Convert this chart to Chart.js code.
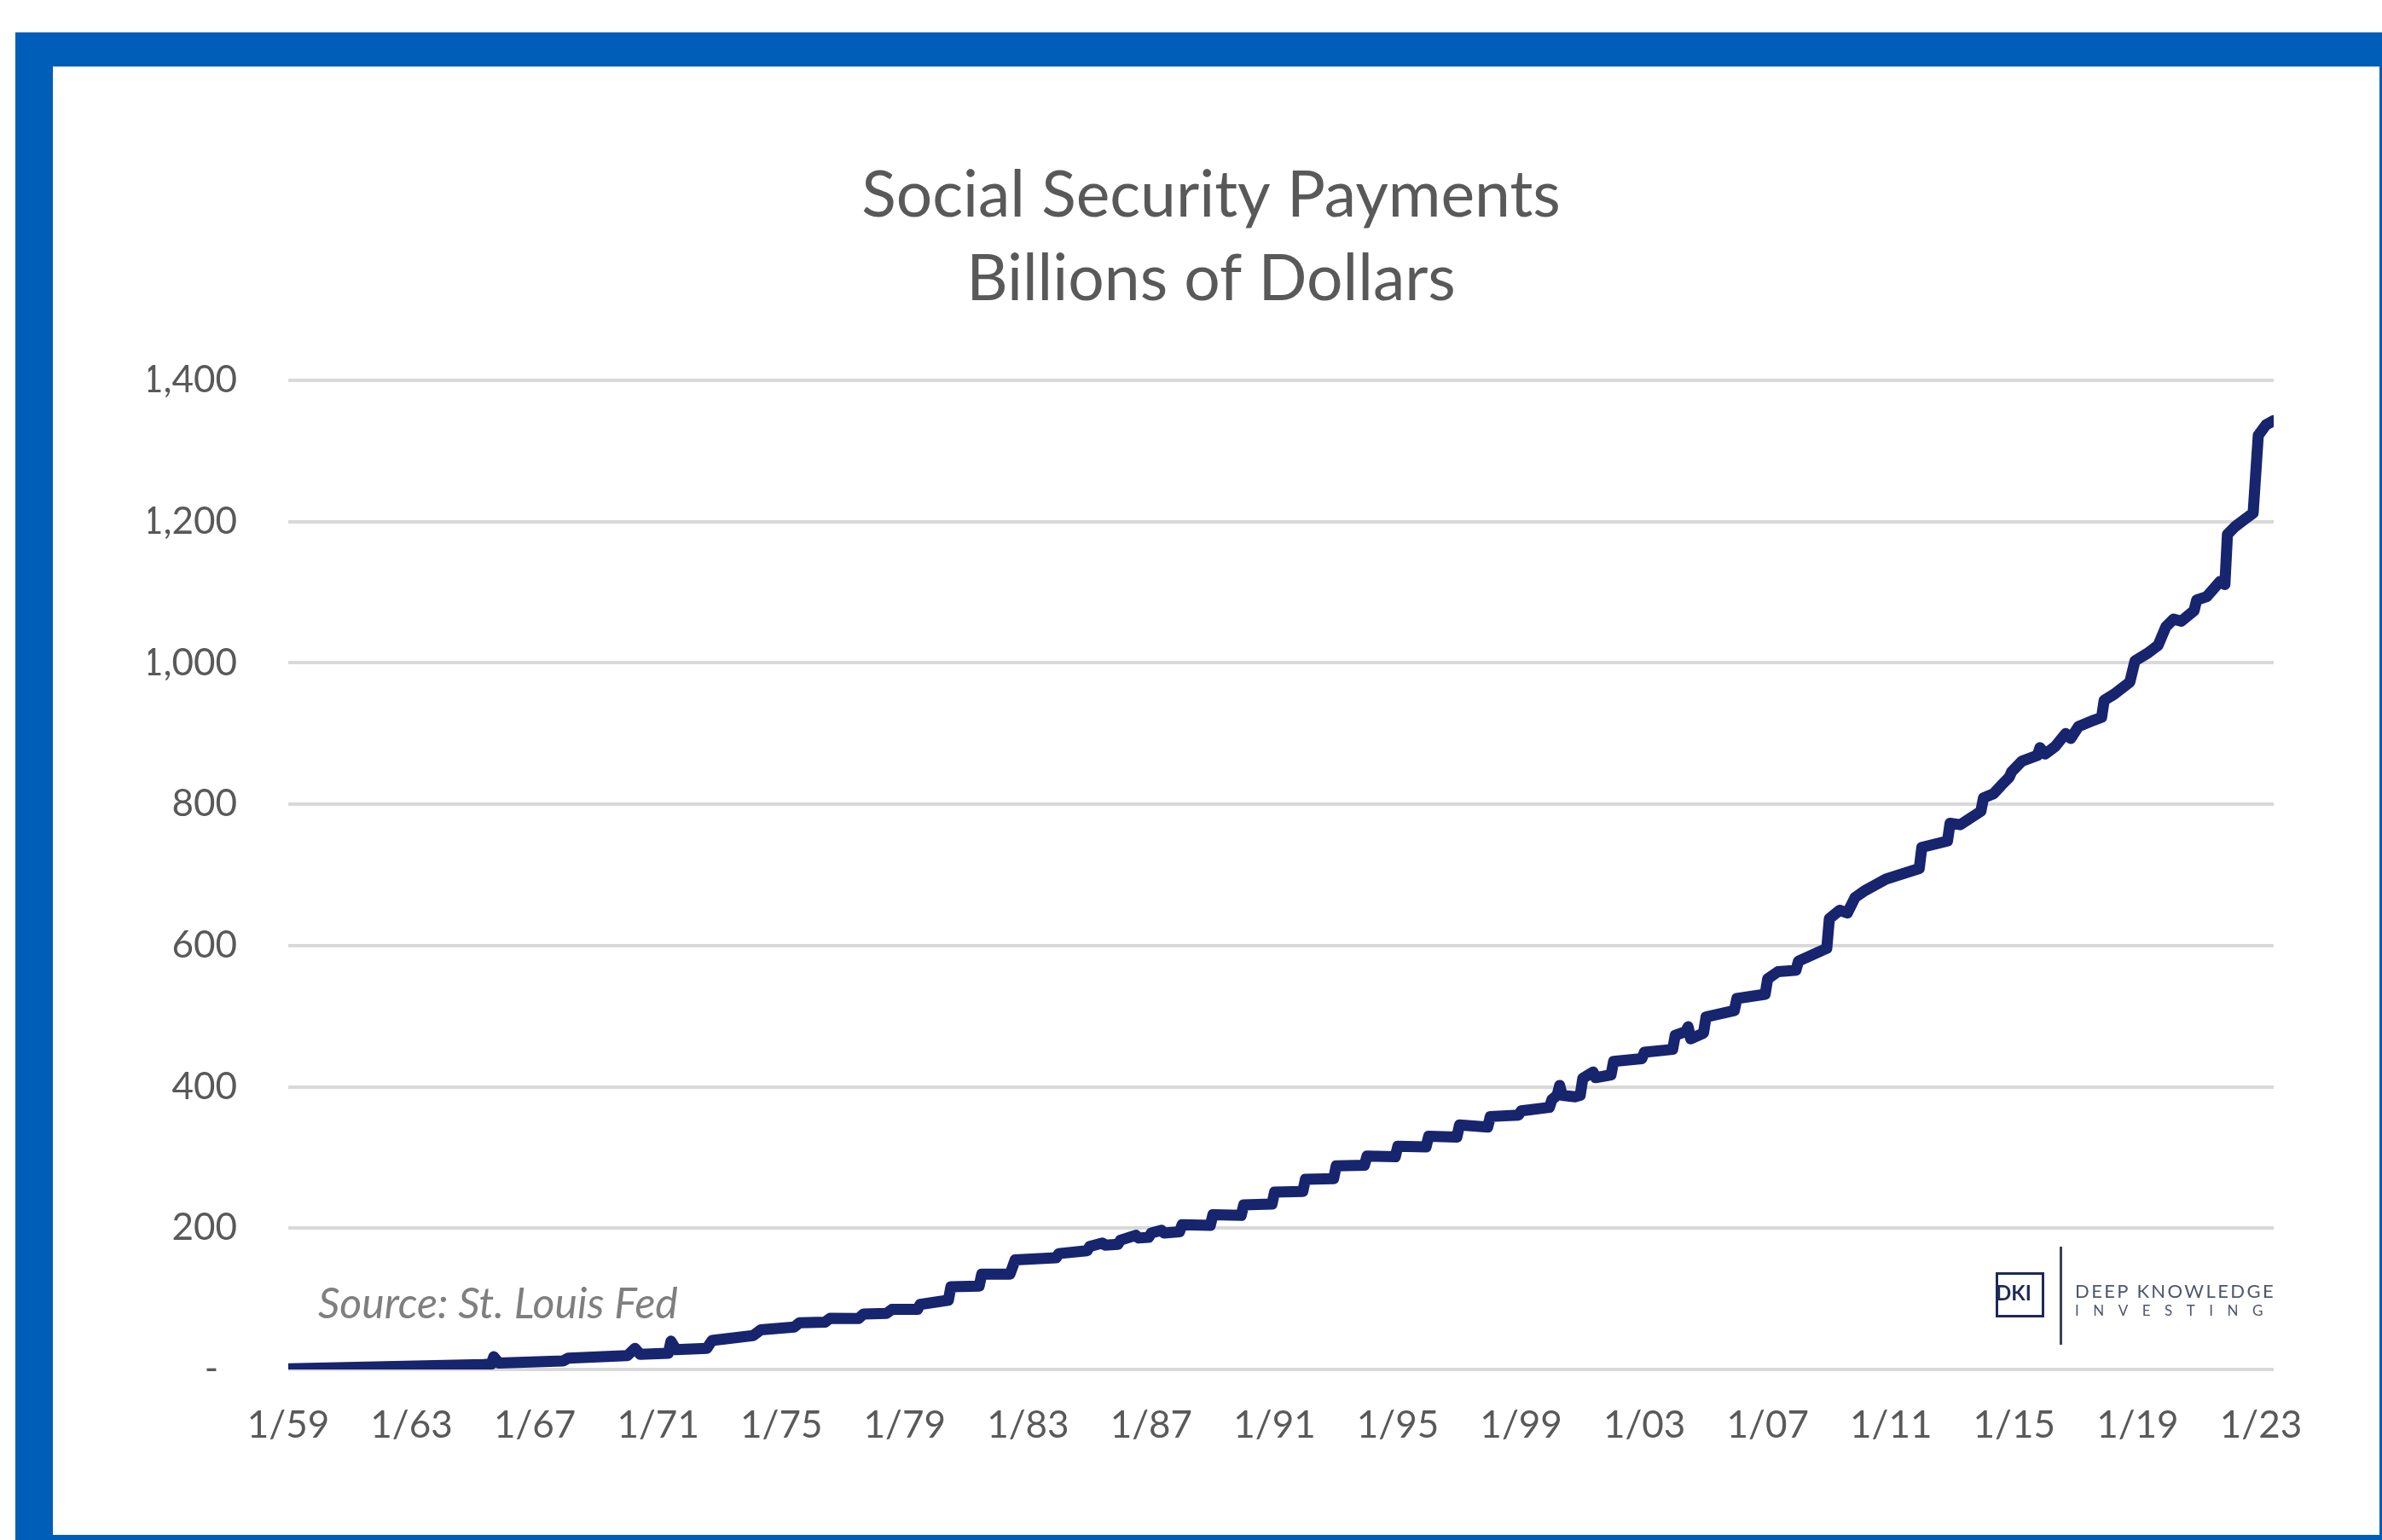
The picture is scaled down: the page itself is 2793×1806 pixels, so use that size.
<!DOCTYPE html>
<html lang="en">

<head>
    <meta charset="UTF-8">
    <title>Social Security Payments</title>
    <script src="https://cdn.jsdelivr.net/npm/chart.js"></script>
    <style>
        html,
        body {
            margin: 0;
            padding: 0;
            background: #fff;
            overflow: hidden;
        }

        #wrap {
            position: relative;
            width: 2793px;
            height: 1806px;
        }

        #myChart {
            position: absolute;
            left: 0;
            top: 0;
        }

        /* blue slide frame around the chart */
        .frame {
            position: absolute;
            left: 18px;
            top: 38px;
            width: 2775px;
            height: 1768px;
            box-sizing: border-box;
            border-top: 40px solid #005eb8;
            border-left: 44px solid #005eb8;
            border-bottom: 6px solid #005eb8;
            border-right: 3px solid #005eb8;
            pointer-events: none;
        }

        .txt {
            position: absolute;
            line-height: 1;
            white-space: nowrap;
            font-family: Lato, "Open Sans", sans-serif;
        }

        .source {
            left: 373px;
            top: 1502px;
            font-size: 50px;
            font-style: italic;
            color: #7f7f7f;
        }

        .dki-box {
            position: absolute;
            left: 2340px;
            top: 1492px;
            width: 57px;
            height: 53px;
            box-sizing: border-box;
            border: 3px solid #1d2a55;
        }

        .dki {
            left: 2340px;
            top: 1504px;
            font-size: 24px;
            font-weight: 700;
            color: #1d2a55;
        }

        .logo-bar {
            position: absolute;
            left: 2415px;
            top: 1462px;
            width: 3px;
            height: 115px;
            background: #3a4258;
        }

        .deep {
            left: 2433px;
            top: 1503px;
            font-size: 22px;
            letter-spacing: 2.4px;
            color: #4d5670;
        }

        .investing {
            left: 2433px;
            top: 1528px;
            font-size: 17px;
            letter-spacing: 16.5px;
            color: #4d5670;
        }
    </style>
</head>

<body>
    <div id="wrap">
        <canvas id="myChart" width="2793" height="1806"></canvas>
        <div class="frame"></div>
        <div class="txt source">Source: St. Louis Fed</div>
        <div class="dki-box"></div>
        <div class="txt dki">DKI</div>
        <div class="logo-bar"></div>
        <div class="txt deep">DEEP KNOWLEDGE</div>
        <div class="txt investing">INVESTING</div>
    </div>

    <script>
        // months counted from January 1959
        const monthIndex = [
            0, 76, 79, 80, 82, 107, 109, 132, 135, 137, 148, 149, 151, 163, 165,
            181, 184, 197, 199, 209, 211, 222, 224, 233, 235, 245, 246, 257, 258,
            269, 270, 281, 283, 299, 300, 311, 312, 317, 318, 323, 324, 330, 331,
            335, 336, 340, 341, 347, 348, 359, 360, 371, 372, 383, 384, 395, 396,
            407, 408, 419, 420, 431, 432, 443, 444, 455, 456, 467, 468, 479, 480,
            491, 492, 494, 495, 496, 501, 503, 504, 508, 509, 515, 516, 527, 528,
            539, 540, 544, 545, 546, 551, 552, 563, 564, 575, 576, 580, 587, 588,
            599, 600, 604, 607, 610, 614, 622, 635, 636, 646, 647, 651, 659, 660,
            664, 667, 670, 671, 675, 681, 682, 684, 688, 692, 694, 697, 703, 706,
            707, 711, 717, 719, 724, 728, 731, 734, 737, 742, 743, 747, 752, 754,
            755, 758, 762, 765, 767, 770, 773
        ];

        // billions of dollars
        const payments = [
            1, 7, 7.5, 18, 9, 12, 16, 19.5, 30, 21.5, 23, 40, 28, 30, 41,
            48, 56, 60, 66, 67, 72.5, 72, 78.5, 79.5, 85, 85, 92, 98, 117,
            118, 135, 135, 155, 158, 164, 168, 174, 179, 176, 177, 183, 190, 186,
            187, 193, 197, 193, 195, 205, 204, 219, 218, 233, 234, 251, 252, 269,
            270, 288, 289, 302, 301, 316, 315, 330, 329, 346, 343, 358, 360, 366,
            371, 382, 388, 402, 388, 386, 388, 412, 421, 413, 417, 436, 440, 449,
            453, 473, 478, 485, 468, 476, 499, 508, 525, 531, 553, 563, 565, 578,
            596, 638, 650, 646, 668, 678, 694, 709, 739, 748, 773, 771, 790, 809,
            815, 827, 838, 846, 861, 869, 880, 871, 882, 900, 893, 910, 919, 923,
            947, 956, 973, 1003, 1014, 1025, 1051, 1062, 1059, 1074, 1089, 1094, 1115, 1111,
            1182, 1193, 1204, 1212, 1322, 1337, 1343
        ];

        const xTickLabels = ['1/59', '1/63', '1/67', '1/71', '1/75', '1/79', '1/83', '1/87', '1/91',
            '1/95', '1/99', '1/03', '1/07', '1/11', '1/15', '1/19', '1/23'];
        const yTicks = [0, 200, 400, 600, 800, 1000, 1200, 1400];

        const tickFont = { family: 'Lato, "Open Sans", sans-serif', size: 44 };

        new Chart(document.getElementById('myChart'), {
            type: 'line',
            data: {
                datasets: [{
                    label: 'Social Security Payments',
                    data: monthIndex.map((m, i) => ({ x: m, y: payments[i] })),
                    borderColor: '#17246e',
                    borderWidth: 13,
                    borderJoinStyle: 'round',
                    borderCapStyle: 'round',
                    pointRadius: 0,
                    tension: 0,
                    fill: false
                }]
            },
            options: {
                responsive: false,
                animation: false,
                devicePixelRatio: 1,
                layout: { padding: { left: 174, right: 127, top: 181, bottom: 0 } },
                plugins: {
                    legend: { display: false },
                    tooltip: { enabled: false },
                    title: {
                        display: true,
                        text: ['Social Security Payments', 'Billions of Dollars'],
                        color: '#595959',
                        font: { family: 'Lato, "Open Sans", sans-serif', size: 75, weight: '400', lineHeight: 98 / 75 },
                        padding: { top: 0, bottom: 69 }
                    }
                },
                scales: {
                    x: {
                        type: 'linear',
                        min: 0,
                        max: 773,
                        afterBuildTicks: function (scale) {
                            scale.ticks = xTickLabels.map((t, i) => ({ value: i * 48 }));
                        },
                        afterFit: function (scale) {
                            scale.height = 200;
                        },
                        grid: { display: false, drawTicks: false },
                        border: { display: false },
                        ticks: {
                            autoSkip: false,
                            maxRotation: 0,
                            padding: 39,
                            color: '#595959',
                            font: tickFont,
                            callback: (v, i) => xTickLabels[i]
                        }
                    },
                    y: {
                        min: 0,
                        max: 1400,
                        afterBuildTicks: function (scale) {
                            scale.ticks = yTicks.map(v => ({ value: v }));
                        },
                        afterFit: function (scale) {
                            scale.width = 164;
                        },
                        grid: { color: '#d9d9d9', lineWidth: 4, drawTicks: false },
                        border: { display: false },
                        ticks: {
                            padding: 60,
                            color: '#595959',
                            font: tickFont,
                            // zero shown as a dash, accounting style
                            callback: v => v === 0 ? '-\u2002' : v.toLocaleString('en-US')
                        }
                    }
                }
            }
        });
    </script>
</body>

</html>
